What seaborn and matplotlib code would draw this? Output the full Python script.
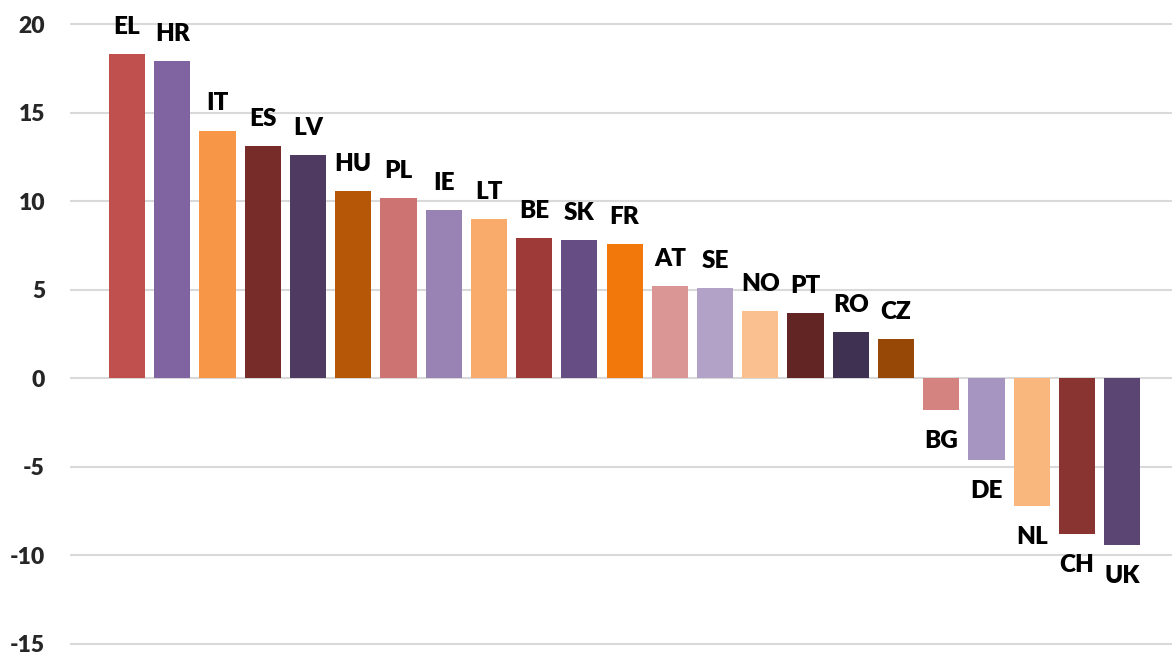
import matplotlib
matplotlib.use("Agg")
import matplotlib.pyplot as plt
import seaborn as sns
import pandas as pd

countries = ["EL", "HR", "IT", "ES", "LV", "HU", "PL", "IE", "LT", "BE", "SK", "FR",
             "AT", "SE", "NO", "PT", "RO", "CZ", "BG", "DE", "NL", "CH", "UK"]
values = [18.3, 17.9, 14.0, 13.1, 12.6, 10.6, 10.2, 9.5, 9.0, 7.9, 7.8, 7.6,
          5.2, 5.1, 3.8, 3.7, 2.6, 2.2, -1.8, -4.6, -7.2, -8.8, -9.4]
colors = ["#C0504D", "#8064A2", "#F79646", "#772C2A", "#4F3B62", "#B65708",
          "#CD7371", "#9983B5", "#F9AB6B", "#9E3A38", "#664E85", "#F2780C",
          "#DA9694", "#B3A2C7", "#FAC090", "#632523", "#3F3151", "#974706",
          "#D58381", "#A694C1", "#F9B77D", "#8A3432", "#5A4573"]
yticks = [-15, -10, -5, 0, 5, 10, 15, 20]

df = pd.DataFrame({"country": countries, "value": values})

sns.set_style("white")
plt.rcParams["font.family"] = ["Lato", "DejaVu Sans"]

W, H = 1172, 654
fig = plt.figure(figsize=(W / 100, H / 100), dpi=100)

zero_px = 378.3
ppu = 17.7
ylo, yhi = -15.3, 20.3
top_px = zero_px - ppu * yhi
bot_px = zero_px - ppu * ylo
left_px, right_px = 70, 1172
ax = fig.add_axes([left_px / W, 1 - bot_px / H, (right_px - left_px) / W, (bot_px - top_px) / H])

sns.barplot(data=df, x="country", y="value", hue="country", palette=colors,
            width=0.8, saturation=1, legend=False, ax=ax, zorder=3,
            linewidth=0, edgecolor="none")

ax.set_ylim(ylo, yhi)
ax.set_xlim(-1.26, 23.1)
ax.set_yticks(yticks)
ax.set_yticklabels([str(t) for t in yticks], fontsize=16.5, fontweight="heavy")
ax.tick_params(axis="y", length=0, pad=18)
ax.set_xticks([])
ax.set_xlabel("")
ax.set_ylabel("")
for s in ax.spines.values():
    s.set_visible(False)
for t in yticks:
    ax.axhline(t, color="#D9D9D9", lw=1.5, zorder=1)

px2pt = 72 / 100
for i, (c, v) in enumerate(zip(countries, values)):
    if v >= 0:
        off = 20 * px2pt
    else:
        off = -(21 + 17) * px2pt
    ax.annotate(c, (i, v), xytext=(0, off), textcoords="offset points",
                ha="center", va="baseline", fontsize=17.5, fontweight="heavy",
                color="black")

fig.savefig("out.png", dpi=100)
